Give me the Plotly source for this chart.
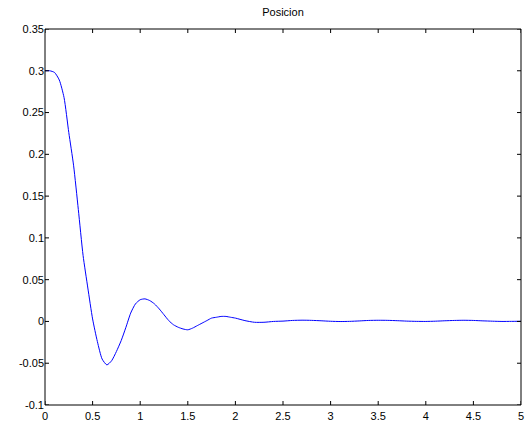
import plotly.graph_objects as go

t = [0, 0.05, 0.1, 0.15, 0.2, 0.25, 0.3, 0.35, 0.4, 0.45, 0.5, 0.55, 0.6, 0.65,
     0.7, 0.75, 0.8, 0.85, 0.9, 0.95, 1.0, 1.05, 1.1, 1.15, 1.2, 1.25, 1.3, 1.35,
     1.4, 1.45, 1.5, 1.55, 1.6, 1.65, 1.7, 1.75, 1.8, 1.85, 1.9, 1.95, 2.0, 2.1,
     2.2, 2.3, 2.4, 2.5, 2.6, 2.7, 2.8, 2.9, 3.0, 3.1, 3.2, 3.3, 3.4, 3.5, 3.6,
     3.7, 3.8, 3.9, 4.0, 4.1, 4.2, 4.3, 4.4, 4.5, 4.6, 4.7, 4.8, 4.9, 5.0]
posicion = [0.300, 0.300, 0.298, 0.289, 0.268, 0.226, 0.187, 0.134, 0.079, 0.040,
            0.003, -0.024, -0.045, -0.052, -0.047, -0.036, -0.023, -0.007, 0.010,
            0.021, 0.026, 0.027, 0.025, 0.021, 0.015, 0.008, 0.001, -0.004, -0.007,
            -0.009, -0.010, -0.008, -0.005, -0.002, 0.001, 0.004, 0.005, 0.006,
            0.006, 0.005, 0.004, 0.001, -0.001, -0.001, 0.000, 0.0004, 0.0012,
            0.0015, 0.0013, 0.0008, 0.0002, -0.0001, 0.0001, 0.0006, 0.0012,
            0.0014, 0.0013, 0.0009, 0.0004, 0.0001, 0.0000, 0.0003, 0.0008,
            0.0012, 0.0014, 0.0012, 0.0007, 0.0003, 0.0000, 0.0001, 0.0002]

x_ticks = [0, 0.5, 1, 1.5, 2, 2.5, 3, 3.5, 4, 4.5, 5]
x_labels = ["0", "0.5", "1", "1.5", "2", "2.5", "3", "3.5", "4", "4.5", "5"]
y_ticks = [-0.1, -0.05, 0, 0.05, 0.1, 0.15, 0.2, 0.25, 0.3, 0.35]
y_labels = ["-0.1", "-0.05", "0", "0.05", "0.1", "0.15", "0.2", "0.25", "0.3", "0.35"]

W, H = 531, 426
ML, MR, MT, MB = 45, 10, 29, 21
TICK = 4
tx = TICK / (W - ML - MR)
ty = TICK / (H - MT - MB)

fig = go.Figure(go.Scatter(x=t, y=posicion, mode="lines",
                           line=dict(color="#0000FF", width=1, shape="spline", smoothing=0.6)))

axis_common = dict(showline=False, ticks="", showgrid=False, zeroline=False, automargin=False,
                   tickfont=dict(family="Liberation Sans, Arial", size=11, color="black"))

line_style = dict(color="black", width=1)
shapes = [dict(type="rect", xref="paper", yref="paper", x0=0, x1=1, y0=0, y1=1,
               line=line_style, fillcolor="rgba(0,0,0,0)", layer="above")]
for xv in x_ticks:
    shapes.append(dict(type="line", xref="x", yref="y domain", x0=xv, x1=xv, y0=0, y1=ty,
                       line=line_style, layer="above"))
    shapes.append(dict(type="line", xref="x", yref="y domain", x0=xv, x1=xv, y0=1 - ty, y1=1,
                       line=line_style, layer="above"))
for yv in y_ticks:
    shapes.append(dict(type="line", xref="x domain", yref="y", x0=0, x1=tx, y0=yv, y1=yv,
                       line=line_style, layer="above"))
    shapes.append(dict(type="line", xref="x domain", yref="y", x0=1 - tx, x1=1, y0=yv, y1=yv,
                       line=line_style, layer="above"))

fig.update_layout(
    template="none",
    width=W, height=H,
    margin=dict(l=ML, r=MR, t=MT, b=MB, autoexpand=False),
    paper_bgcolor="white", plot_bgcolor="white",
    showlegend=False,
    title=dict(text="Posicion", x=0.5, xanchor="center", xref="paper",
               y=1 - 12 / H, yanchor="middle",
               font=dict(family="Liberation Sans, Arial", size=11, color="black")),
    xaxis=dict(range=[0, 5], tickvals=x_ticks, ticktext=x_labels, ticklabelstandoff=3, **axis_common),
    yaxis=dict(range=[-0.1, 0.35], tickvals=y_ticks, ticktext=y_labels, ticklabelstandoff=0, **axis_common),
    shapes=shapes,
)

fig.write_html("out.html", config={"displayModeBar": False},
               post_script="document.body.style.margin='0';document.body.style.overflow='hidden';")
